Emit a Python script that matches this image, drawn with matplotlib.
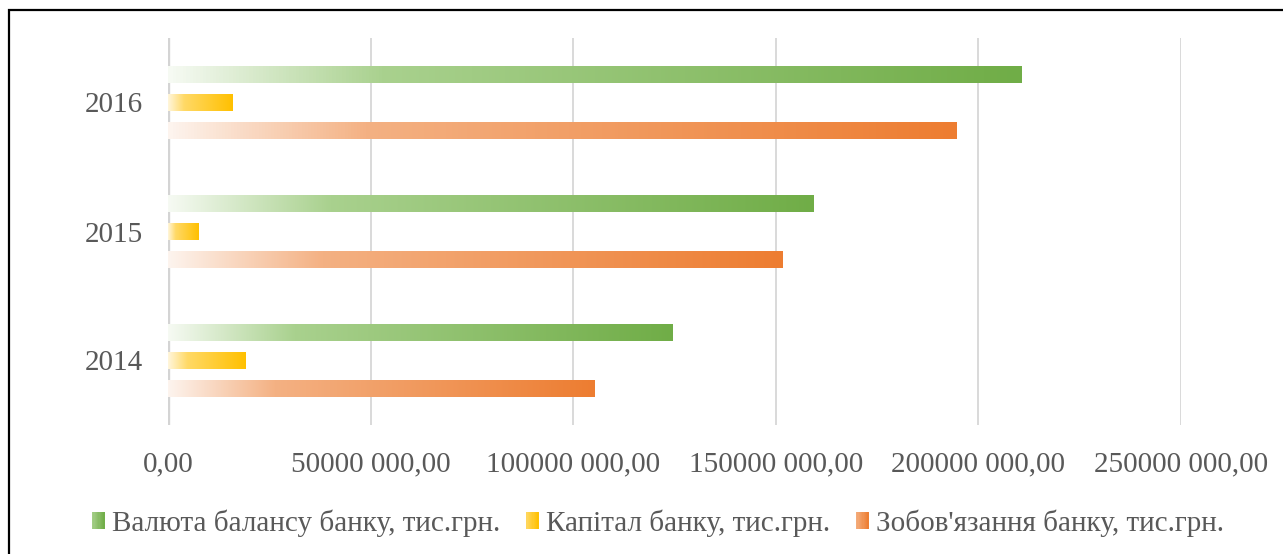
import numpy as np
import matplotlib
matplotlib.use('Agg')
import matplotlib.pyplot as plt
from matplotlib.colors import LinearSegmentedColormap
from matplotlib.legend_handler import HandlerBase
from matplotlib.patches import Rectangle

# дані по банку (тис. грн)
years = ['2014', '2015', '2016']
balance = [124.4e6, 159.3e6, 210.7e6]
capital = [19.2e6, 7.6e6, 16.0e6]
liabilities = [105.2e6, 151.7e6, 194.7e6]
series_names = ['Валюта балансу банку, тис.грн.',
                'Капітал банку, тис.грн.',
                "Зобов'язання банку, тис.грн."]
x_ticks = [0, 50e6, 100e6, 150e6, 200e6, 250e6]
x_labels = ['0,00', '50000 000,00', '100000 000,00',
            '150000 000,00', '200000 000,00', '250000 000,00']

colors = ['#70AD47', '#FFC000', '#ED7D31']
tints = ['#A9D18E', '#FFD966', '#F4B183']
starts = ['#F6FAF3', '#FFF6DC', '#FDF4EE']
text_color = '#595959'

plt.rcParams['font.family'] = ['Liberation Serif', 'DejaVu Serif']


class GradientHandler(HandlerBase):
    """Маркер легенди з градієнтною заливкою."""

    def __init__(self, cmap):
        super().__init__()
        self.cmap = cmap

    def create_artists(self, legend, orig_handle, xdescent, ydescent,
                       width, height, fontsize, trans):
        n = 10
        w = width / n
        arts = []
        for i in range(n):
            arts.append(Rectangle((-xdescent + i * w, -ydescent), w * 1.05, height,
                                  fc=self.cmap(0.3 + 0.7 * (i + 0.5) / n),
                                  ec='none', transform=trans))
        return arts


fig = plt.figure(figsize=(12.83, 5.54), dpi=100)
ax = fig.add_axes([168 / 1283, 1 - 425 / 554, (1181 - 168) / 1283, (425 - 38) / 554])

y = np.arange(len(years))
h = 0.136
offs = [0.217, 0.0, -0.217]
grad = np.linspace(0, 1, 256).reshape(1, -1)

cmaps = []
handles = []
for k, vals in enumerate([balance, capital, liabilities]):
    cmap = LinearSegmentedColormap.from_list(
        'g%d' % k, [(0, starts[k]), (0.25, tints[k]), (1, colors[k])])
    cmaps.append(cmap)
    bars = ax.barh(y + offs[k], vals, height=h, color='none', edgecolor='none', zorder=3)
    for b in bars:
        x0, y0 = b.get_x(), b.get_y()
        im = ax.imshow(grad, extent=[x0, x0 + b.get_width(), y0, y0 + b.get_height()],
                       aspect='auto', cmap=cmap, interpolation='bilinear', zorder=3)
        im.set_clip_path(b)
    handles.append(Rectangle((0, 0), 1, 1, fc=colors[k]))

ax.set_xlim(0, 250e6)
ax.set_ylim(-0.5, 2.5)
ax.set_xticks(x_ticks)
ax.set_xticklabels(x_labels)
ax.set_yticks(y)
ax.set_yticklabels(years)
ax.tick_params(axis='both', length=0, labelsize=21, labelcolor=text_color)
ax.tick_params(axis='y', pad=18)
ax.tick_params(axis='x', pad=19)
for s in ax.spines.values():
    s.set_visible(False)
ax.grid(axis='x', color='#D9D9D9', lw=1.4, zorder=0)
ax.axvline(0, color='#D4D4D4', lw=2.4, zorder=1)
ax.set_axisbelow(True)

leg = fig.legend(handles, series_names, loc='center', ncol=3,
                 bbox_to_anchor=(658 / 1283, 1 - 523 / 554),
                 frameon=False, fontsize=21, labelcolor=text_color,
                 handlelength=0.42, handleheight=0.55, handletextpad=0.25,
                 columnspacing=0.9,
                 handler_map={handles[i]: GradientHandler(cmaps[i]) for i in range(3)})

# рамка діаграми
fig.add_artist(Rectangle((9 / 1283, -0.1), 1.2, 1 - 10 / 554 + 0.1,
                         transform=fig.transFigure, fill=False,
                         ec='black', lw=1.6, zorder=10))

fig.savefig('out.png', dpi=100)
